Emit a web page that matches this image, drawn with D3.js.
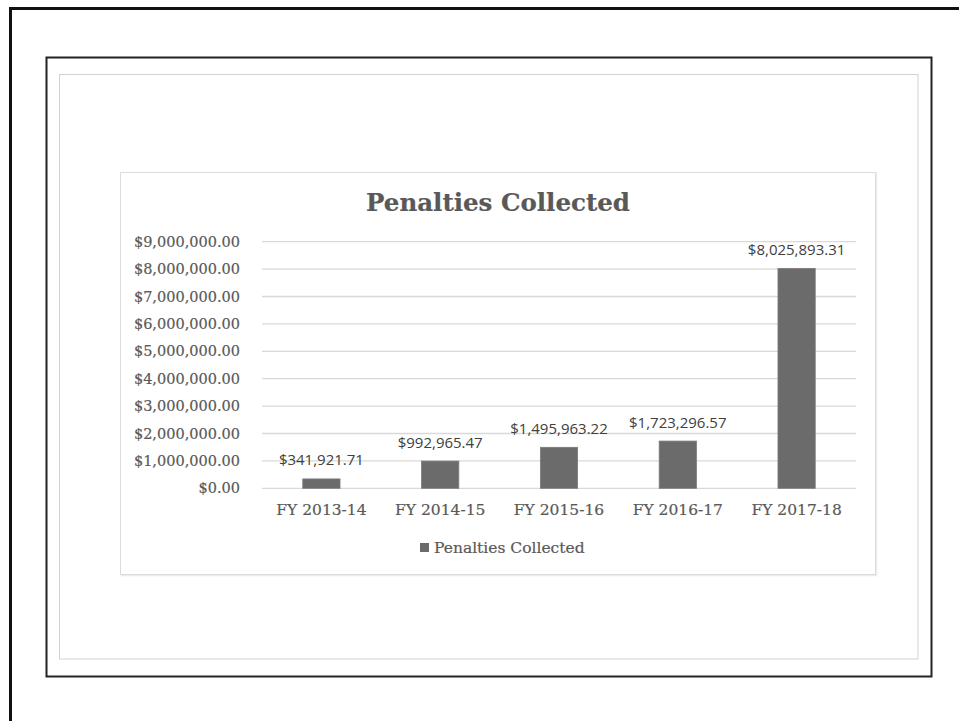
<!DOCTYPE html>
<html>
<head>
<meta charset="utf-8">
<script src="https://cdn.jsdelivr.net/npm/d3@7"></script>
<style>
  html, body { margin: 0; padding: 0; background: #fff; }
  svg { display: block; }
</style>
</head>
<body>
<svg id="chart" width="959" height="721"></svg>
<script>
// Fiscal years on the category axis
const categories = ["FY 2013-14", "FY 2014-15", "FY 2015-16", "FY 2016-17", "FY 2017-18"];
// Penalties collected per fiscal year (USD)
const penalties = [341921.71, 992965.47, 1495963.22, 1723296.57, 8025893.31];
// Value-axis tick marks
const yTicks = [0, 1000000, 2000000, 3000000, 4000000, 5000000, 6000000, 7000000, 8000000, 9000000];
const seriesName = "Penalties Collected";
const chartTitle = "Penalties Collected";

const svg = d3.select("#chart");
const serif = "'DejaVu Serif', serif";
const sans = "'Open Sans', 'Noto Sans', sans-serif";
const money = d3.format("$,.2f");

// Page frames
svg.append("path")
  .attr("d", "M10.5,721 L10.5,8.5 L959,8.5")
  .attr("fill", "none").attr("stroke", "#111").attr("stroke-width", 3);
svg.append("rect")
  .attr("x", 46.5).attr("y", 57.5).attr("width", 885).attr("height", 619)
  .attr("fill", "none").attr("stroke", "#222").attr("stroke-width", 2);
svg.append("rect")
  .attr("x", 59.5).attr("y", 74.5).attr("width", 858.5).attr("height", 584.5)
  .attr("fill", "none").attr("stroke", "#d2d2d2").attr("stroke-width", 1);

// Chart area with soft edge
svg.append("rect")
  .attr("x", 121.5).attr("y", 173.5).attr("width", 755).attr("height", 402)
  .attr("fill", "none").attr("stroke", "#ececec").attr("stroke-width", 1.5);
svg.append("rect")
  .attr("x", 120.5).attr("y", 172.5).attr("width", 755).attr("height", 402)
  .attr("fill", "#fff").attr("stroke", "#dcdcdc").attr("stroke-width", 1);

// Scales
const plotLeft = 262, plotRight = 856, plotTop = 241.7, plotBottom = 488.3;
const gap = 2.19; // spacing between bars relative to bar width
const pInner = gap / (1 + gap);
const x = d3.scaleBand().domain(categories).range([plotLeft, plotRight])
  .paddingInner(pInner).paddingOuter(pInner / 2);
const y = d3.scaleLinear().domain([0, 9000000]).range([plotBottom, plotTop]);

// Slightly heavier grey serif text
function serifText(sel, size) {
  sel.attr("font-family", serif).attr("font-size", size)
    .attr("fill", "#595959").attr("stroke", "#595959").attr("stroke-width", 0.2);
}

// Title
svg.append("text")
  .attr("x", 498).attr("y", 211)
  .attr("text-anchor", "middle")
  .attr("font-weight", "bold")
  .call(serifText, 24.5)
  .text(chartTitle);

// Gridlines
svg.append("g").selectAll("line").data(yTicks).join("line")
  .attr("x1", plotLeft).attr("x2", plotRight)
  .attr("y1", d => y(d)).attr("y2", d => y(d))
  .attr("stroke", "#d9d9d9").attr("stroke-width", 1.3);

// Value axis labels
const yAxis = svg.append("g")
  .attr("transform", `translate(${plotLeft},0)`)
  .call(d3.axisLeft(y).tickValues(yTicks).tickFormat(money).tickSize(0).tickPadding(22));
yAxis.select(".domain").remove();
yAxis.selectAll("text").call(serifText, 14.5);

// Category axis labels
const xAxis = svg.append("g")
  .attr("transform", `translate(0,${plotBottom})`)
  .call(d3.axisBottom(x).tickSize(0));
xAxis.select(".domain").remove();
xAxis.selectAll("text")
  .attr("y", 27).attr("dy", 0)
  .call(serifText, 15.5);

// Bars
svg.append("g").selectAll("rect").data(penalties).join("rect")
  .attr("x", (d, i) => x(categories[i]))
  .attr("y", d => y(d))
  .attr("width", x.bandwidth())
  .attr("height", d => y(0) - y(d))
  .attr("fill", "#6b6b6b")
  .attr("stroke", "#7a7a7a").attr("stroke-width", 0.8);

// Data labels
svg.append("g").selectAll("text").data(penalties).join("text")
  .attr("x", (d, i) => x(categories[i]) + x.bandwidth() / 2)
  .attr("y", d => y(d) - 13.5)
  .attr("text-anchor", "middle")
  .attr("font-family", sans).attr("font-size", 15).attr("fill", "#404040")
  .text(d => money(d));

// Legend
const legend = svg.append("g").attr("transform", "translate(420,543)");
legend.append("rect").attr("width", 9).attr("height", 9).attr("fill", "#6b6b6b");
legend.append("text")
  .attr("x", 14).attr("y", 10)
  .call(serifText, 15.5)
  .text(seriesName);
</script>
</body>
</html>
